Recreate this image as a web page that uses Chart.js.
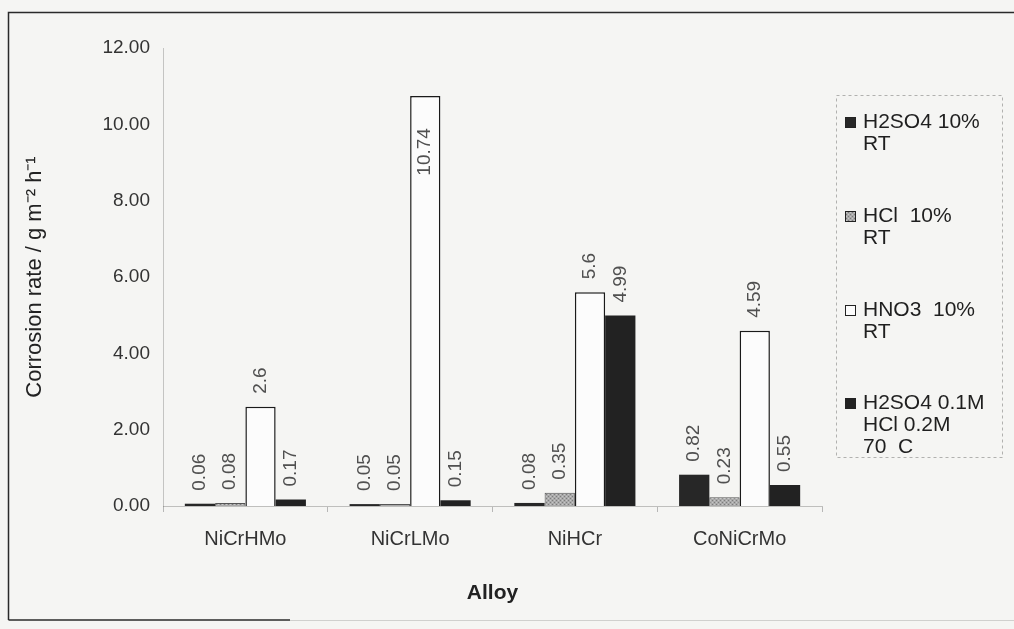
<!DOCTYPE html>
<html>
<head>
<meta charset="utf-8">
<script src="https://cdn.jsdelivr.net/npm/chart.js@4/dist/chart.umd.min.js"></script>
<style>
  html, body { margin: 0; padding: 0; background: #f5f5f3; }
  #wrap { width: 1014px; height: 629px; position: relative; }
  canvas { display: block; }
</style>
</head>
<body>
<div id="wrap"><canvas id="c" width="1014" height="629"></canvas></div>
<script>
// Corrosion rates of four alloys in four acid media
const alloys = ['NiCrHMo', 'NiCrLMo', 'NiHCr', 'CoNiCrMo'];
const h2so4Rt = [0.06, 0.05, 0.08, 0.82];
const hclRt = [0.08, 0.05, 0.35, 0.23];
const hno3Rt = [2.6, 10.74, 5.6, 4.59];
const mixedAcid70 = [0.17, 0.15, 4.99, 0.55];
const seriesNames = [
  ['H2SO4 10%', 'RT'],
  ['HCl  10%', 'RT'],
  ['HNO3  10%', 'RT'],
  ['H2SO4 0.1M', 'HCl 0.2M', '70  C']
];
const yMax = 12;
const yStep = 2;

const FONT = '"Liberation Sans", Arial, Helvetica, sans-serif';

// speckled grey fill for the HCl bars
function speckle() {
  const p = document.createElement('canvas');
  p.width = 4; p.height = 4;
  const g = p.getContext('2d');
  g.fillStyle = '#a9a9a9';
  g.fillRect(0, 0, 4, 4);
  g.fillStyle = '#7c7c7c';
  g.fillRect(0, 0, 1, 1);
  g.fillRect(2, 2, 1, 1);
  g.fillStyle = '#c6c6c6';
  g.fillRect(2, 0, 1, 1);
  g.fillRect(0, 2, 1, 1);
  return document.getElementById('c').getContext('2d').createPattern(p, 'repeat');
}
const hclFill = speckle();

const styles = [
  { backgroundColor: '#272727', borderColor: '#1b1b1b', borderWidth: 0 },
  { backgroundColor: hclFill, borderColor: '#555555', borderWidth: 1 },
  { backgroundColor: '#fcfcfc', borderColor: '#1a1a1a', borderWidth: 1.5 },
  { backgroundColor: '#222222', borderColor: '#1b1b1b', borderWidth: 0 }
];
const seriesValues = [h2so4Rt, hclRt, hno3Rt, mixedAcid70];

const datasets = seriesValues.map((vals, i) => Object.assign({
  label: seriesNames[i].join(' '),
  data: vals,
  barPercentage: 1.0,
  categoryPercentage: 0.735
}, styles[i]));

// rotated value labels above each bar (inside the bar when it reaches the top)
const valueLabels = {
  id: 'valueLabels',
  afterDatasetsDraw(chart) {
    const ctx = chart.ctx;
    ctx.save();
    ctx.font = '19px ' + FONT;
    ctx.fillStyle = '#505050';
    ctx.textBaseline = 'middle';
    chart.data.datasets.forEach((ds, di) => {
      const meta = chart.getDatasetMeta(di);
      meta.data.forEach((bar, i) => {
        const v = ds.data[i];
        const txt = String(v);
        ctx.save();
        if (v > 10) {
          ctx.translate(bar.x, bar.y + 32);
          ctx.rotate(-Math.PI / 2);
          ctx.textAlign = 'right';
        } else {
          ctx.translate(bar.x, bar.y - 13);
          ctx.rotate(-Math.PI / 2);
          ctx.textAlign = 'left';
        }
        ctx.fillText(txt, 0, 0);
        ctx.restore();
      });
    });
    ctx.restore();
  }
};

// boxed legend on the right with multi-line entries
const sideLegend = {
  id: 'sideLegend',
  afterDraw(chart) {
    const ctx = chart.ctx;
    ctx.save();
    ctx.strokeStyle = 'rgba(0,0,0,0.28)';
    ctx.lineWidth = 1;
    ctx.setLineDash([3, 3]);
    ctx.strokeRect(836.5, 95.5, 166, 362);
    ctx.setLineDash([]);
    const firstY = [122, 216, 310, 403];
    ctx.font = '21px ' + FONT;
    ctx.textBaseline = 'middle';
    ctx.textAlign = 'left';
    chart.data.datasets.forEach((ds, i) => {
      const y0 = firstY[i];
      ctx.fillStyle = ds.backgroundColor;
      ctx.fillRect(845, y0 - 5, 11, 11);
      ctx.strokeStyle = '#222';
      ctx.lineWidth = 1;
      ctx.strokeRect(845.5, y0 - 4.5, 10, 10);
      ctx.fillStyle = '#1f1f1f';
      seriesNames[i].forEach((line, k) => {
        ctx.fillText(line, 863, y0 + k * 22);
      });
    });
    ctx.restore();
  }
};

// outer frame of the figure
const frame = {
  id: 'frame',
  afterDraw(chart) {
    const ctx = chart.ctx;
    ctx.save();
    ctx.strokeStyle = '#2a2a2a';
    ctx.lineWidth = 1.5;
    ctx.beginPath();
    ctx.moveTo(8.5, 620);
    ctx.lineTo(8.5, 12.5);
    ctx.lineTo(1014, 12.5);
    ctx.stroke();
    ctx.beginPath();
    ctx.moveTo(8.5, 620);
    ctx.lineTo(290, 620);
    ctx.stroke();
    ctx.strokeStyle = 'rgba(0,0,0,0.15)';
    ctx.lineWidth = 1;
    ctx.beginPath();
    ctx.moveTo(290, 620.5);
    ctx.lineTo(1014, 620.5);
    ctx.stroke();
    ctx.restore();
  }
};

new Chart(document.getElementById('c'), {
  type: 'bar',
  data: { labels: alloys, datasets },
  options: {
    responsive: false,
    devicePixelRatio: 1,
    animation: false,
    layout: { padding: { top: 48, right: 192, left: 0, bottom: 0 } },
    plugins: {
      legend: { display: false },
      tooltip: { enabled: false }
    },
    scales: {
      x: {
        afterFit(s) { s.height = 123; },
        grid: {
          display: true,
          offset: true,
          drawOnChartArea: false,
          drawTicks: true,
          tickLength: 6,
          color: 'rgba(0,0,0,0.25)'
        },
        border: { display: true, color: 'rgba(0,0,0,0.22)', width: 1 },
        ticks: {
          color: '#333',
          font: { family: FONT, size: 20 },
          padding: 15
        },
        title: {
          display: true,
          text: 'Alloy',
          color: '#222',
          font: { family: FONT, size: 21, weight: 'bold' },
          padding: { top: 0, bottom: 23 }
        }
      },
      y: {
        min: 0,
        max: yMax,
        afterFit(s) { s.width = 163; },
        grid: { display: false, drawTicks: false },
        border: { display: true, color: 'rgba(0,0,0,0.2)', dash: [3, 4] },
        ticks: {
          stepSize: yStep,
          color: '#333',
          font: { family: FONT, size: 19 },
          padding: 13,
          callback: v => Number(v).toFixed(2)
        },
        title: {
          display: true,
          text: 'Corrosion rate / g m\u207B\u00B2 h\u207B\u00B9',
          color: '#222',
          font: { family: FONT, size: 22 },
          padding: { top: 22, bottom: 0 }
        }
      }
    }
  },
  plugins: [valueLabels, sideLegend, frame]
});
</script>
</body>
</html>
